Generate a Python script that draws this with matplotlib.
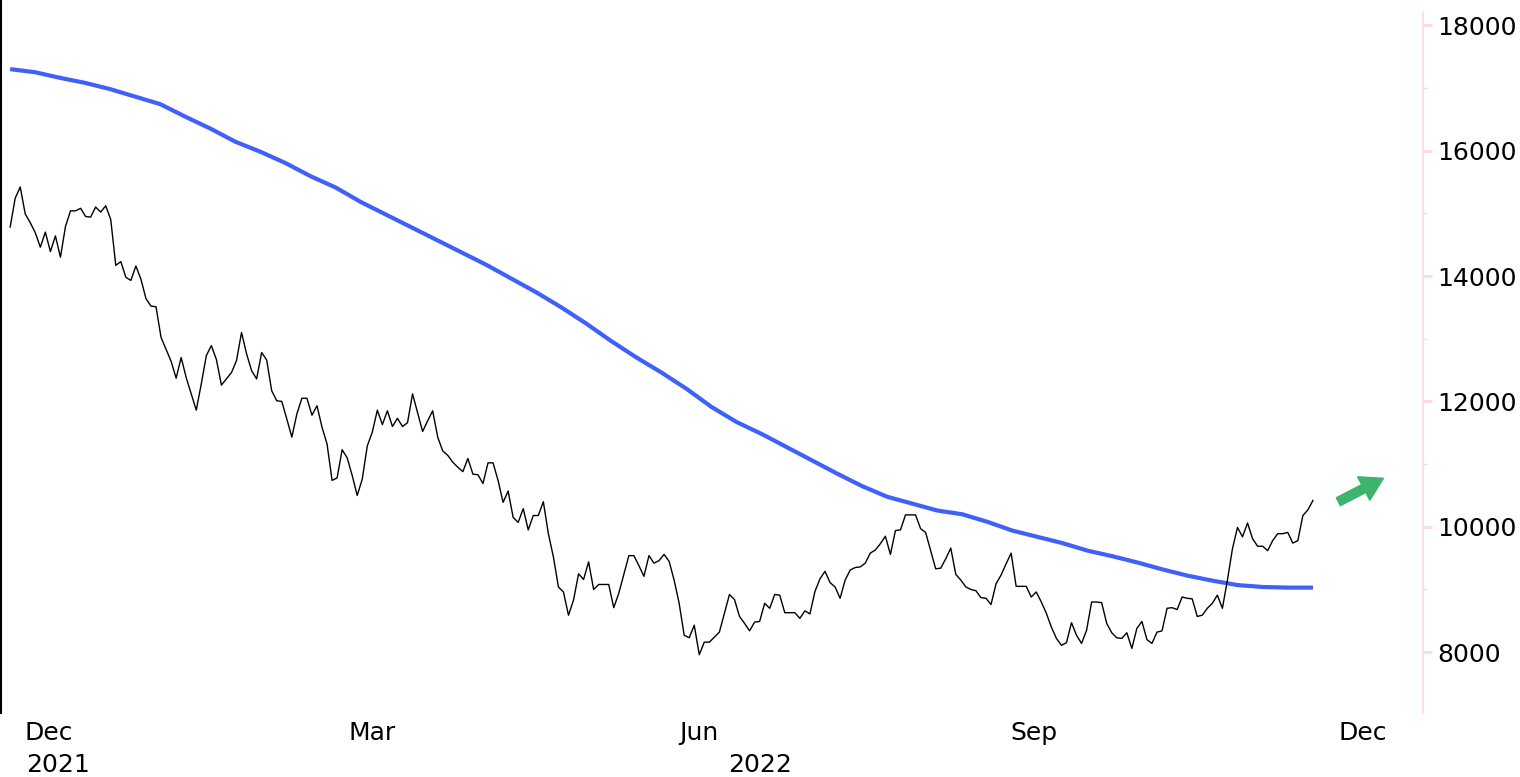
import matplotlib
matplotlib.use("Agg")
import matplotlib.pyplot as plt
from matplotlib.lines import Line2D
from matplotlib.ticker import MultipleLocator
import pandas as pd

# daily close (late Nov 2021 -> late Nov 2022)
close = [
    14780, 15240, 15420, 14990, 14850, 14690, 14460, 14700, 14390, 14640,
    14300, 14790, 15040, 15040, 15080, 14950, 14940, 15100, 15020, 15120,
    14900, 14170, 14230, 13980, 13930, 14160, 13950, 13640, 13520, 13510,
    13020, 12830, 12640, 12370, 12700, 12380, 12120, 11860, 12280, 12730,
    12890, 12670, 12260, 12360, 12460, 12650, 13100, 12760, 12490, 12360,
    12780, 12660, 12170, 12010, 12000, 11720,
    11430, 11800, 12050, 12050, 11780, 11930, 11590, 11320, 10740,
    10780, 11230, 11100, 10820, 10500, 10760, 11290, 11510, 11860, 11630,
    11850, 11600, 11730, 11600, 11660, 12120, 11820, 11520, 11690, 11850,
    11430, 11210, 11140, 11030, 10950, 10880, 11090, 10840, 10830, 10690,
    11020, 11020, 10740, 10390, 10570, 10150, 10070, 10290, 9950, 10180,
    10180, 10400, 9890, 9520, 9040, 8960, 8590, 8830, 9250, 9160,
    9440, 9000, 9080, 9080, 9080, 8710, 8940, 9240, 9540, 9540,
    9380, 9210, 9540, 9420, 9460, 9560,
    9450, 9150, 8780, 8270, 8230, 8430, 7960, 8160, 8160, 8240,
    8320, 8620, 8920, 8840, 8570, 8460, 8340, 8480, 8490, 8780,
    8700, 8920, 8910, 8630, 8630, 8630, 8540, 8660, 8610, 8970,
    9170, 9290, 9110, 9040, 8860, 9150, 9310, 9350, 9360, 9420,
    9580, 9630, 9730, 9850, 9560, 9940, 9950, 10190, 10190, 10190,
    9970, 9910, 9620, 9330, 9340, 9490, 9660, 9240, 9150, 9040,
    9000, 8980, 8870, 8860,
    8760, 9090, 9230, 9410, 9580, 9050, 9050, 9050, 8880, 8960,
    8800, 8620, 8400, 8220, 8110, 8150, 8470, 8270, 8140, 8350,
    8800, 8800, 8790, 8460, 8310, 8230, 8220, 8310, 8060, 8380,
    8490, 8200, 8140, 8320, 8340, 8700, 8710, 8680, 8880, 8860,
    8850, 8570, 8590, 8700, 8780, 8910, 8700, 9150, 9650, 9990,
    9840, 10060, 9810, 9690, 9690, 9620, 9780, 9890, 9890, 9910,
    9740, 9780, 10180, 10270, 10420,
]
close_dates = pd.date_range("2021-11-27", "2022-11-24", periods=len(close))

# long moving average (blue), roughly weekly readings over the same span
ma_values = [
    17300, 17250, 17160, 17080, 16980, 16860, 16740, 16540, 16350, 16140,
    15980, 15800, 15590, 15410, 15180, 14980, 14780, 14580, 14380, 14180,
    13960, 13740, 13500, 13240, 12960, 12700, 12460, 12200, 11910, 11670,
    11480, 11270, 11060, 10850, 10650, 10480, 10370, 10260, 10200, 10080,
    9940, 9840, 9740, 9620, 9530, 9430, 9320, 9220, 9140, 9070,
    9040, 9030, 9030,
]
ma_dates = pd.date_range("2021-11-27", "2022-11-24", periods=len(ma_values))

month_ticks = pd.to_datetime(["2021-12-01", "2022-03-01", "2022-06-01", "2022-09-01", "2022-12-01"])
month_labels = ["Dec", "Mar", "Jun", "Sep", "Dec"]
year_pos = pd.to_datetime(["2021-12-01", "2022-06-14"])
year_labels = ["2021", "2022"]

pink = "#ffd8d8"
green = "#3cb46e"

fig = plt.figure(figsize=(15.2, 7.77), dpi=100)
ax = fig.add_axes([1 / 1520, 1 - 713 / 777, 1422 / 1520, 700.3 / 777])

ax.plot(ma_dates, ma_values, color="#4060fa", lw=3.0, solid_capstyle="butt")
ax.plot(close_dates, close, color="black", lw=1.0)

ax.set_xlim(pd.Timestamp("2021-11-24 11:00"), pd.Timestamp("2022-12-24 14:00"))
ax.set_ylim(7030, 18200)

# spines: black left edge (runs up to the top of the image), pale pink price scale
for s in ("top", "bottom", "left"):
    ax.spines[s].set_visible(False)
fig.add_artist(Line2D([1 / 1520, 1 / 1520], [1 - 713 / 777, 1], color="black", lw=1.5))
ax.spines["right"].set_color(pink)
ax.spines["right"].set_linewidth(1.2)

ax.yaxis.tick_right()
ax.yaxis.set_major_locator(MultipleLocator(2000))
ax.yaxis.set_minor_locator(MultipleLocator(1000))
ax.tick_params(axis="y", which="major", direction="out", length=6.5, width=2,
               color=pink, labelsize=18, pad=4)
ax.tick_params(axis="y", which="minor", direction="out", length=3, width=1, color=pink)

ax.set_xticks(month_ticks)
ax.set_xticklabels(month_labels, ha="left")
ax.tick_params(axis="x", length=0, labelsize=18, pad=6)

for d, lab in zip(year_pos, year_labels):
    ax.annotate(lab, xy=(d, 0), xycoords=("data", "axes fraction"),
                xytext=(1, -28.5), textcoords="offset points",
                ha="left", va="top", fontsize=18)

# green "up" arrow to the right of the last price
ax.annotate("", xy=(0.9722, 0.3352), xycoords="axes fraction",
            xytext=(0.9405, 0.3017), textcoords="axes fraction",
            arrowprops=dict(arrowstyle="simple,head_length=0.8,head_width=0.95,tail_width=0.32",
                            color=green, mutation_scale=20, shrinkA=0, shrinkB=0))

fig.savefig("out.png", dpi=100, facecolor="white")
